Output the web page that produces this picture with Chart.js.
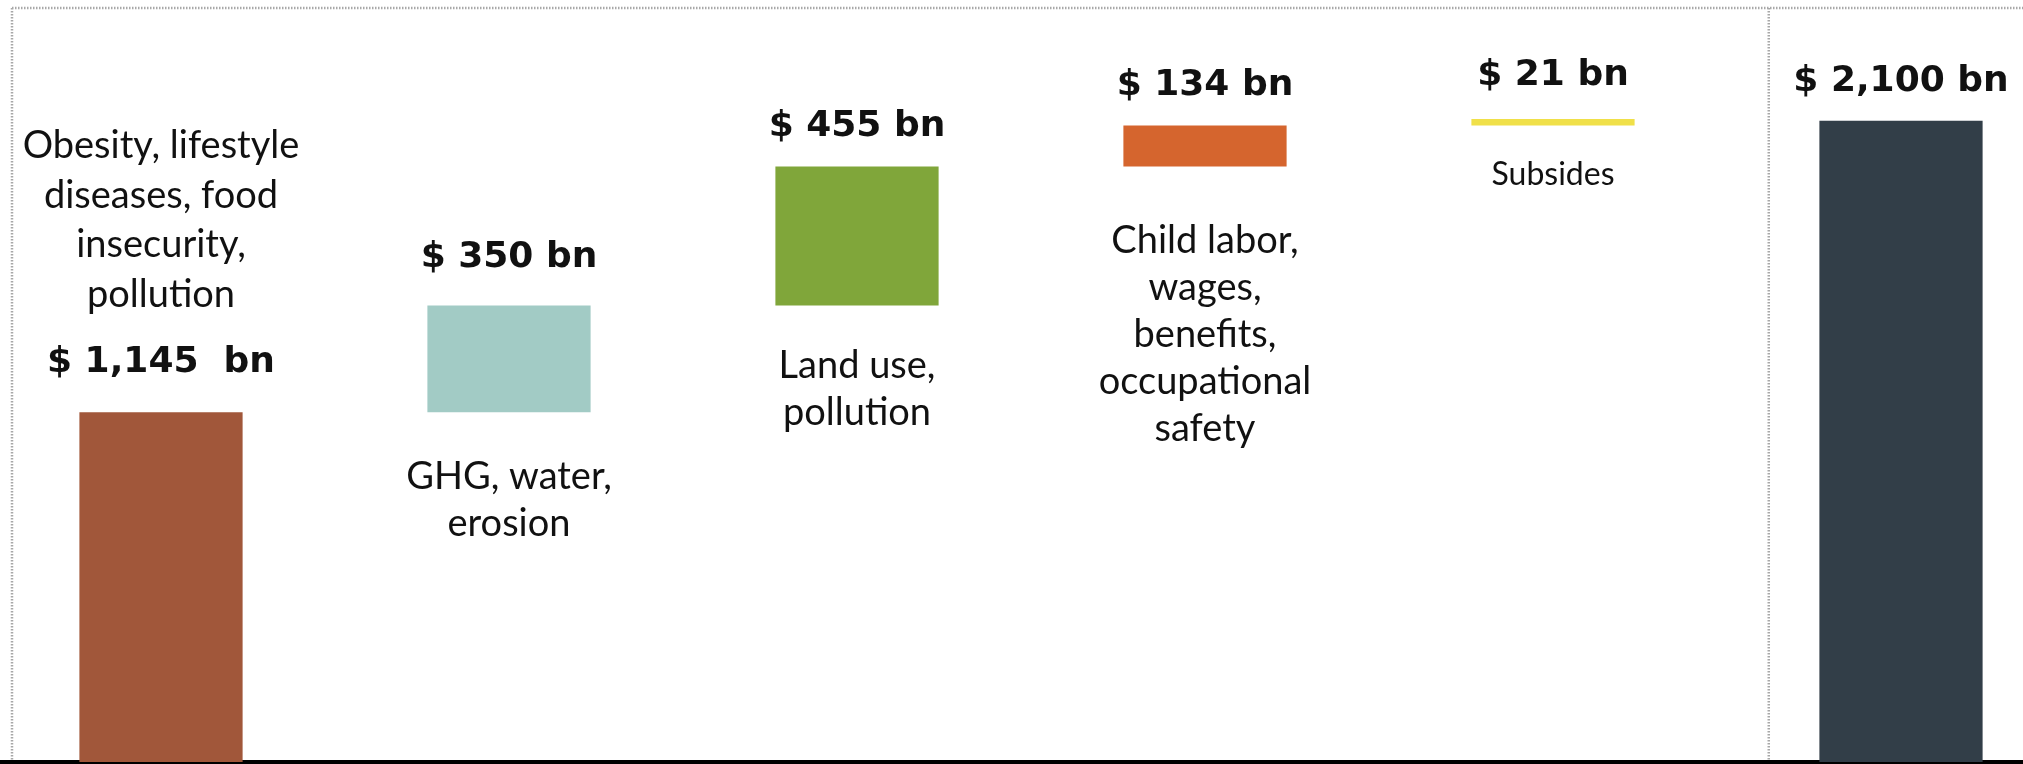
<!DOCTYPE html>
<html>
<head>
<meta charset="utf-8">
<script src="https://cdn.jsdelivr.net/npm/chart.js@4"></script>
<style>
  html, body { margin: 0; padding: 0; background: #fff; overflow: hidden; }
  #wrap { width: 2023px; height: 764px; position: relative; overflow: hidden; }
  /* the picture is cropped on the right, so the canvas is wider than the page */
  #costChart { position: absolute; left: -13px; top: 0; }
</style>
</head>
<body>
<div id="wrap"><canvas id="costChart" width="2088" height="764"></canvas></div>
<script>
// hidden costs, $ bn -- each step stacks on the previous one, last bar is the total
const categories = ["Health", "Environment", "Land", "Social", "Subsidies", "Total"];
const steps = [1145, 350, 455, 134, 21];
const total = 2100;
const valueLabels = ["$ 1,145  bn", "$ 350 bn", "$ 455 bn", "$ 134 bn", "$ 21 bn", "$ 2,100 bn"];
const descriptions = [
  ["Obesity, lifestyle", "diseases, food", "insecurity,", "pollution"],
  ["GHG, water,", "erosion"],
  ["Land use,", "pollution"],
  ["Child labor,", "wages,", "benefits,", "occupational", "safety"],
  ["Subsides"],
  []
];
const barColors = ["#A1573A", "#A2CBC5", "#80A63A", "#D5652E", "#F0E049", "#323E48"];

// floating bars [start, end]
let running = 0;
const barData = steps.map((v) => {
  const bar = [running, running + v];
  running += v;
  return bar;
});
barData.push([0, total]);

// text spacing around each bar (px)
const labelGap = [50, 48, 40, 40, 43, 39];
const descGap = [68, 64, 60, 74, 49, 0];

const frameLines = {
  id: "frameLines",
  beforeDraw(chart) {
    const ctx = chart.ctx;
    const bottom = chart.chartArea.bottom;
    ctx.save();
    ctx.strokeStyle = "#A8A8A8";
    ctx.lineWidth = 2.5;
    ctx.setLineDash([1.5, 1.5]);
    ctx.beginPath();
    ctx.moveTo(25, 8);
    ctx.lineTo(chart.width, 8);
    ctx.moveTo(25, 8);
    ctx.lineTo(25, bottom);
    // divider between the cost steps and the total
    const sep = chart.scales.x.getPixelForValue(4.62);
    ctx.moveTo(sep, 8);
    ctx.lineTo(sep, bottom);
    ctx.stroke();
    ctx.restore();
  }
};

const barTexts = {
  id: "barTexts",
  afterDatasetsDraw(chart) {
    const ctx = chart.ctx;
    const meta = chart.getDatasetMeta(0);
    ctx.save();
    ctx.textAlign = "center";
    ctx.textBaseline = "middle";
    ctx.fillStyle = "#111";
    meta.data.forEach((bar, i) => {
      const top = Math.min(bar.y, bar.base);
      const bottom = Math.max(bar.y, bar.base);
      const labelY = top - labelGap[i];
      ctx.font = "bold 36px 'DejaVu Sans'";
      ctx.fillText(valueLabels[i], bar.x, labelY);

      const lines = descriptions[i];
      if (!lines.length) return;
      const small = i === 4;
      ctx.font = (small ? "32px" : "38px") + " Lato";
      if (i === 0) {
        // description sits above the value label for the first bar
        lines.forEach((t, k) => {
          ctx.fillText(t, bar.x, labelY - descGap[i] - (lines.length - 1 - k) * 49.5);
        });
      } else {
        lines.forEach((t, k) => {
          ctx.fillText(t, bar.x, bottom + descGap[i] + k * 47);
        });
      }
    });
    ctx.restore();
  }
};

new Chart(document.getElementById("costChart"), {
  type: "bar",
  data: {
    labels: categories,
    datasets: [{
      data: barData,
      backgroundColor: barColors,
      borderWidth: 0,
      categoryPercentage: 1,
      barPercentage: 0.469
    }]
  },
  options: {
    responsive: false,
    animation: false,
    layout: { padding: { top: 0, bottom: 2, left: 0, right: 0 } },
    plugins: { legend: { display: false }, tooltip: { enabled: false } },
    scales: {
      x: {
        grid: { display: false, drawTicks: false },
        ticks: { display: false },
        border: { display: true, color: "#000", width: 4 }
      },
      y: {
        min: 0,
        max: 2495,
        display: false
      }
    }
  },
  plugins: [frameLines, barTexts]
});
</script>
</body>
</html>
